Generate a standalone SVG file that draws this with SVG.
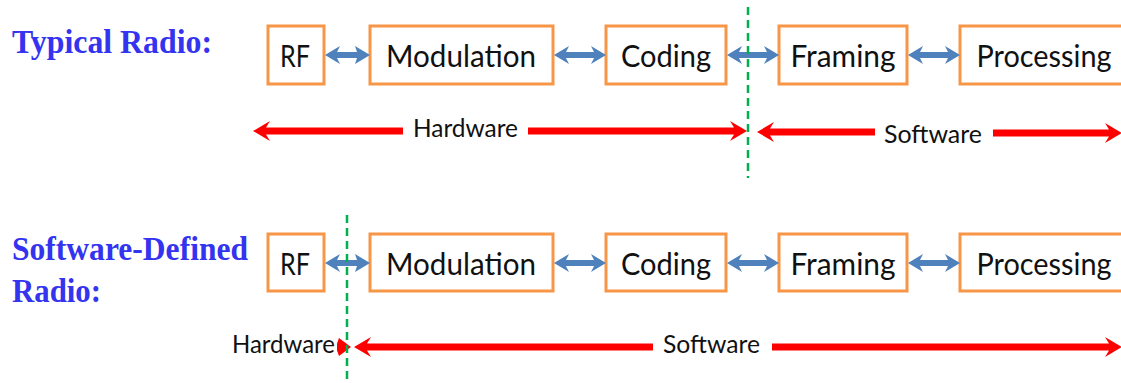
<svg xmlns="http://www.w3.org/2000/svg" width="1121" height="383" viewBox="0 0 1121 383">
  <style>
    .title { font-family: "Liberation Serif", "Times New Roman", serif; font-weight: bold; font-size: 33px; fill: #3333f0; }
    .box { fill: #ffffff; stroke: #f79646; stroke-width: 3; }
    .boxtext { font-family: Lato, "Open Sans", sans-serif; font-size: 31px; fill: #111111; text-anchor: middle; }
    .span { font-family: Lato, "Open Sans", sans-serif; font-size: 25px; fill: #111111; }
    .link { fill: #4f81bd; }
    .extent { fill: #ff0000; }
    .split { stroke: #00b050; stroke-width: 2.5; stroke-dasharray: 8 5; fill: none; }
  </style>

  <rect width="1121" height="383" fill="#ffffff"/>

  <!-- section titles -->
  <text class="title" x="12" y="53" textLength="200" lengthAdjust="spacingAndGlyphs">Typical Radio:</text>
  <text class="title" x="12" y="260" textLength="236" lengthAdjust="spacingAndGlyphs">Software-Defined</text>
  <text class="title" x="12" y="302" textLength="89" lengthAdjust="spacingAndGlyphs">Radio:</text>

  <!-- typical radio chain -->
  <g id="top-rf"><rect class="box" x="268" y="26" width="56" height="58"/><text class="boxtext" x="295" y="67" textLength="30" lengthAdjust="spacingAndGlyphs">RF</text></g>
  <g id="top-modulation"><rect class="box" x="370" y="26" width="183" height="58"/><text class="boxtext" x="461" y="67" textLength="150" lengthAdjust="spacingAndGlyphs">Modulation</text></g>
  <g id="top-coding"><rect class="box" x="606" y="26" width="120" height="58"/><text class="boxtext" x="666" y="67" textLength="90" lengthAdjust="spacingAndGlyphs">Coding</text></g>
  <g id="top-framing"><rect class="box" x="779" y="26" width="128" height="58"/><text class="boxtext" x="843" y="67" textLength="105" lengthAdjust="spacingAndGlyphs">Framing</text></g>
  <g id="top-processing"><rect class="box" x="960" y="26" width="170" height="58"/><text class="boxtext" x="1044" y="67" textLength="135" lengthAdjust="spacingAndGlyphs">Processing</text></g>

  <!-- software-defined radio chain -->
  <g id="sdr-rf"><rect class="box" x="268" y="234" width="56" height="57"/><text class="boxtext" x="295" y="275" textLength="30" lengthAdjust="spacingAndGlyphs">RF</text></g>
  <g id="sdr-modulation"><rect class="box" x="370" y="234" width="183" height="57"/><text class="boxtext" x="461" y="275" textLength="150" lengthAdjust="spacingAndGlyphs">Modulation</text></g>
  <g id="sdr-coding"><rect class="box" x="606" y="234" width="120" height="57"/><text class="boxtext" x="666" y="275" textLength="90" lengthAdjust="spacingAndGlyphs">Coding</text></g>
  <g id="sdr-framing"><rect class="box" x="779" y="234" width="128" height="57"/><text class="boxtext" x="843" y="275" textLength="105" lengthAdjust="spacingAndGlyphs">Framing</text></g>
  <g id="sdr-processing"><rect class="box" x="960" y="234" width="170" height="57"/><text class="boxtext" x="1044" y="275" textLength="135" lengthAdjust="spacingAndGlyphs">Processing</text></g>

  <!-- two-way links between stages -->
  <g id="connectors">
    <polygon class="link" points="325,55 340,46 337,52 357,52 355,46 370,55 355,64 357,58 337,58 340,64"/>
    <polygon class="link" points="554,55 569,46 566,52 594,52 591,46 606,55 591,64 594,58 566,58 569,64"/>
    <polygon class="link" points="727,55 742,46 739,52 767,52 764,46 779,55 764,64 767,58 739,58 742,64"/>
    <polygon class="link" points="908,55 923,46 920,52 948,52 945,46 960,55 945,64 948,58 920,58 923,64"/>

    <polygon class="link" points="325,263 340,254 337,260 357,260 355,254 370,263 355,272 357,266 337,266 340,272"/>
    <polygon class="link" points="554,263 569,254 566,260 594,260 591,254 606,263 591,272 594,266 566,266 569,272"/>
    <polygon class="link" points="727,263 742,254 739,260 767,260 764,254 779,263 764,272 767,266 739,266 742,272"/>
    <polygon class="link" points="908,263 923,254 920,260 948,260 945,254 960,263 945,272 948,266 920,266 923,272"/>
  </g>

  <!-- hardware / software extents, typical radio -->
  <g id="top-extents">
    <polygon class="extent" points="253,131 270,121 266,127.5 403,127.5 403,134.5 266,134.5 270,141"/>
    <polygon class="extent" points="528,127.5 734,127.5 730,121 747,131 730,141 734,134.5 528,134.5"/>
    <polygon class="extent" points="757,132 774,122 770,128.5 875,128.5 875,135.5 770,135.5 774,142"/>
    <polygon class="extent" points="993,129.5 1109,129.5 1105,123 1122,133 1105,143 1109,136.5 993,136.5"/>
    <text class="span" x="413" y="137" textLength="105" lengthAdjust="spacingAndGlyphs">Hardware</text>
    <text class="span" x="884" y="143" textLength="98" lengthAdjust="spacingAndGlyphs">Software</text>
  </g>

  <!-- hardware / software extents, software-defined radio -->
  <g id="sdr-extents">
    <polygon class="extent" points="337,343.5 339,338 351,347 339,356 337,350.5"/>
    <polygon class="extent" points="354,347 371,337 367,343.5 653,343.5 653,350.5 367,350.5 371,357"/>
    <polygon class="extent" points="772,343.5 1109,343.5 1105,337 1122,347 1105,357 1109,350.5 772,350.5"/>
    <text class="span" x="232" y="353" textLength="103" lengthAdjust="spacingAndGlyphs">Hardware</text>
    <text class="span" x="663" y="353" textLength="97" lengthAdjust="spacingAndGlyphs">Software</text>
  </g>

  <!-- hardware/software boundaries -->
  <line class="split" x1="748" y1="7" x2="748" y2="178"/>
  <line class="split" x1="347" y1="215" x2="347" y2="383"/>
</svg>
